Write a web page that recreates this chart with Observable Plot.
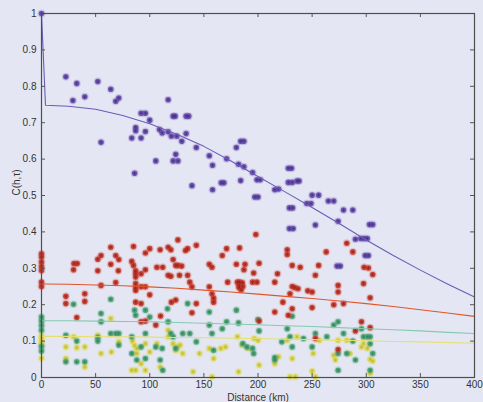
<!DOCTYPE html>
<html>
<head>
<meta charset="utf-8">
<script src="https://cdn.jsdelivr.net/npm/d3@7"></script>
<script src="https://cdn.jsdelivr.net/npm/@observablehq/plot@0.6"></script>
<style>
  html, body { margin: 0; padding: 0; background: #e3e6f2; }
  #chart { width: 483px; height: 402px; overflow: hidden; }
</style>
</head>
<body>
<div id="chart"></div>
<script>
// ---- data ----
const xTicks = [0, 50, 100, 150, 200, 250, 300, 350, 400];
const yTicks = [0, 0.1, 0.2, 0.3, 0.4, 0.5, 0.6, 0.7, 0.8, 0.9, 1];

const fitX = [0, 3.7, 25, 50, 75, 100, 125, 150, 175, 200, 225, 250, 275, 300, 325, 350, 375, 400];
const purpleFit = [1.0, 0.748, 0.745, 0.737, 0.72, 0.697, 0.668, 0.635, 0.595, 0.552, 0.51, 0.467, 0.423, 0.378, 0.335, 0.295, 0.257, 0.221];
const redFit = [0.257, 0.257, 0.256, 0.254, 0.252, 0.249, 0.245, 0.24, 0.235, 0.229, 0.223, 0.217, 0.21, 0.203, 0.195, 0.186, 0.177, 0.168];
const greenFit = [0.156, 0.156, 0.156, 0.155, 0.154, 0.153, 0.151, 0.149, 0.147, 0.145, 0.142, 0.14, 0.137, 0.134, 0.131, 0.128, 0.124, 0.121];
const yellowFit = [0.113, 0.113, 0.113, 0.112, 0.112, 0.111, 0.11, 0.109, 0.108, 0.107, 0.105, 0.104, 0.102, 0.101, 0.099, 0.098, 0.096, 0.094];

const purplePts = [[0,1.0],[22.5,0.826],[32.6,0.808],[29,0.761],[40,0.771],[52,0.813],[64,0.792],[55,0.646],[68.6,0.759],[71.4,0.768],[86,0.561],[83.4,0.658],[87,0.678],[87,0.687],[92,0.658],[92,0.726],[96,0.726],[96,0.676],[100,0.707],[105.6,0.595],[109,0.681],[111.5,0.672],[117,0.763],[117,0.675],[120,0.663],[121.6,0.718],[123.5,0.718],[124,0.613],[121.6,0.595],[126,0.595],[125,0.663],[129.6,0.649],[133.6,0.670],[133.6,0.718],[136,0.718],[139,0.527],[143,0.632],[155,0.609],[158,0.583],[158,0.516],[166,0.535],[168.5,0.535],[171,0.601],[180,0.632],[182,0.586],[184,0.649],[187,0.649],[184,0.541],[187,0.579],[195,0.563],[199,0.543],[202,0.543],[197,0.496],[200,0.496],[215.5,0.516],[219,0.518],[228,0.575],[231,0.575],[228,0.536],[231.6,0.536],[229,0.466],[232,0.466],[229,0.409],[232.5,0.409],[236,0.540],[238,0.540],[245,0.478],[249,0.478],[250,0.501],[253,0.419],[256,0.501],[265,0.485],[270,0.485],[274,0.429],[279,0.460],[287.6,0.460],[290,0.380],[295,0.382],[298,0.382],[301,0.382],[299,0.335],[302,0.335],[303,0.420],[306,0.420],[273,0.306],[276,0.306]];

const redPts = [[0,0.340],[0,0.331],[0,0.317],[0,0.305],[0,0.294],[0,0.262],[0,0.250],[22.5,0.223],[22.5,0.203],[29.6,0.296],[30,0.313],[33,0.313],[32.6,0.165],[40,0.230],[40,0.209],[52,0.325],[55,0.335],[52,0.293],[55,0.253],[64,0.358],[64,0.311],[68.6,0.335],[71.4,0.324],[68.6,0.261],[71,0.293],[85,0.360],[83.4,0.319],[85,0.308],[87,0.293],[87,0.285],[87,0.276],[87,0.258],[87,0.247],[87,0.239],[87,0.207],[92,0.203],[92,0.285],[96,0.296],[96,0.342],[100,0.354],[92,0.249],[96,0.249],[100,0.227],[92,0.153],[96,0.155],[105.6,0.144],[106.6,0.303],[112,0.303],[109.6,0.351],[110,0.169],[117,0.358],[119.5,0.351],[121.6,0.324],[117,0.281],[119.5,0.278],[124,0.308],[126,0.308],[129.5,0.306],[126,0.378],[124,0.213],[120,0.207],[127.5,0.281],[133,0.349],[135,0.354],[135,0.281],[137,0.262],[139,0.249],[143,0.363],[143,0.203],[139,0.178],[155,0.311],[157.5,0.303],[155,0.249],[157.5,0.230],[159,0.218],[159,0.207],[167,0.335],[171,0.354],[172,0.262],[180,0.311],[183,0.356],[181,0.262],[183,0.262],[185.5,0.260],[182.5,0.253],[186,0.250],[182.5,0.247],[184.5,0.241],[187,0.296],[188,0.311],[196,0.287],[195,0.262],[199,0.262],[198,0.393],[201,0.314],[201,0.155],[215.5,0.262],[218,0.285],[215.5,0.180],[223,0.207],[227,0.351],[227,0.338],[231.6,0.308],[231.6,0.250],[229.6,0.230],[231.6,0.189],[228,0.171],[234,0.247],[237,0.244],[239,0.303],[246,0.238],[250,0.235],[250,0.192],[253,0.281],[256,0.308],[253,0.107],[263,0.345],[270,0.200],[274,0.253],[274,0.235],[279,0.203],[282,0.369],[287.6,0.345],[274,0.077],[290,0.128],[295.6,0.153],[297.5,0.258],[298,0.303],[302,0.301],[303.6,0.219],[306,0.283],[303.6,0.137]];

const greenPts = [[0,0.166],[0,0.155],[0,0.143],[0,0.130],[0,0.085],[0,0.073],[22.5,0.116],[22.5,0.043],[29.6,0.201],[32.6,0.100],[32.6,0.043],[40,0.043],[52,0.100],[52,0.110],[55,0.176],[55,0.153],[64,0.215],[64,0.121],[68.6,0.121],[71.4,0.121],[71.4,0.089],[83.4,0.112],[83.4,0.066],[86,0.185],[87,0.171],[88,0.048],[92,0.084],[96,0.185],[96,0.121],[96,0.052],[100,0.166],[105.6,0.084],[109.6,0.048],[111.5,0.080],[112,0.020],[116.4,0.189],[117,0.153],[119.5,0.121],[121.6,0.112],[124,0.080],[130.5,0.121],[135,0.203],[137,0.121],[143,0.098],[155,0.180],[155,0.144],[157.5,0.121],[159,0.075],[167,0.134],[171,0.153],[180,0.185],[182,0.150],[186,0.093],[189.7,0.084],[195,0.080],[196,0.066],[200,0.159],[201,0.128],[215.5,0.055],[215.5,0.048],[222,0.098],[227,0.134],[229.6,0.112],[231.6,0.084],[231.6,0.168],[242,0.107],[250,0.084],[253,0.121],[263.6,0.112],[274,0.153],[274,0.066],[274,0.020],[270,0.144],[279,0.121],[282,0.066],[287.6,0.100],[290,0.048],[295.6,0.134],[297.5,0.112],[301,0.112],[303.6,0.112],[303.6,0.093],[303.6,0.020],[306,0.066]];

const yellowPts = [[0,0.115],[0,0.108],[0,0.100],[0,0.095],[0,0.090],[0,0.053],[22.5,0.084],[22.5,0.052],[29.6,0.112],[32.6,0.082],[40,0.084],[40,0.029],[52,0.116],[55,0.066],[64,0.162],[64.6,0.070],[71.4,0.098],[83.4,0.020],[87,0.020],[84,0.100],[86,0.088],[88,0.080],[88,0.066],[92,0.038],[96,0.020],[96,0.093],[100,0.070],[106.6,0.093],[109.6,0.029],[117,0.130],[117,0.112],[121.6,0.093],[124,0.075],[126,0.084],[128,0.089],[130.5,0.066],[140,0.016],[146,0.066],[155,0.080],[157.5,0.002],[159,0.052],[165.6,0.080],[170,0.084],[181,0.112],[182,0.016],[185,0.089],[191,0.080],[196.5,0.107],[200,0.102],[201,0.034],[215.5,0.038],[219,0.057],[227,0.102],[229.6,0.002],[234.6,0.002],[231.6,0.052],[236,0.112],[250,0.018],[253,0.002],[251,0.066],[256.8,0.102],[270,0.061],[271.5,0.048],[274,0.102],[282,0.102],[285,0.066],[295.6,0.084],[297.5,0.093],[301,0.080],[303.6,0.011],[303.6,0.050],[306,0.045]];

const xLabel = "Distance (km)";
const yLabel = "C(h,\u03c4)";

// ---- styling ----
const series = [
  {pts: yellowPts, fill: "#ddd958", star: "#b8b032"},
  {pts: greenPts, fill: "#4fa679", star: "#2a7a50"},
  {pts: redPts, fill: "#cc3b2e", star: "#8a1e16"},
  {pts: purplePts, fill: "#6a4fb0", star: "#3d2a78"}
];
const fits = [
  {y: yellowFit, stroke: "#e6df6e"},
  {y: greenFit, stroke: "#86c9b0"},
  {y: redFit, stroke: "#e2542a"},
  {y: purpleFit, stroke: "#6a5cb8"}
];

const marks = [];
for (const s of series) {
  marks.push(Plot.dot(s.pts, {x: d => d[0], y: d => d[1], r: 4, fill: s.fill, fillOpacity: 0.22, stroke: "none"}));
  marks.push(Plot.dot(s.pts, {x: d => d[0], y: d => d[1], r: 2.8, fill: s.fill, fillOpacity: 0.9, stroke: "none"}));
  marks.push(Plot.dot(s.pts, {x: d => d[0], y: d => d[1], r: 1.8, symbol: "asterisk", stroke: s.star, strokeWidth: 0.7, strokeOpacity: 0.8}));
}
for (const f of fits) {
  marks.push(Plot.line(fitX.map((x, i) => [x, f.y[i]]), {x: d => d[0], y: d => d[1], stroke: f.stroke, strokeWidth: 1.1}));
}
// inward ticks on all four sides
marks.push(Plot.ruleX(xTicks, {x: d => d, y1: 0, y2: 0.011, stroke: "#555", strokeWidth: 1}));
marks.push(Plot.ruleX(xTicks, {x: d => d, y1: 0.989, y2: 1, stroke: "#555", strokeWidth: 1}));
marks.push(Plot.ruleY(yTicks, {y: d => d, x1: 0, x2: 3.7, stroke: "#555", strokeWidth: 1}));
marks.push(Plot.ruleY(yTicks, {y: d => d, x1: 396.3, x2: 400, stroke: "#555", strokeWidth: 1}));
marks.push(Plot.frame({stroke: "#4e4e4e", strokeWidth: 1.2}));
marks.push(Plot.axisX({ticks: xTicks, tickSize: 0, tickPadding: 3, tickFormat: d => String(d), label: null, fill: "#333"}));
marks.push(Plot.axisY({ticks: yTicks, tickSize: 0, tickPadding: 5, tickFormat: d => String(d), label: null, fill: "#333"}));
marks.push(Plot.text([xLabel], {frameAnchor: "bottom", dy: 16, lineAnchor: "top", text: d => d, fill: "#333", fontSize: 10}));
marks.push(Plot.text([yLabel], {frameAnchor: "left", dx: -25, rotate: -90, text: d => d, fill: "#333", fontSize: 10}));

const chart = Plot.plot({
  width: 483,
  height: 402,
  marginLeft: 41,
  marginRight: 9,
  marginTop: 13,
  marginBottom: 25,
  x: {domain: [0, 400]},
  y: {domain: [0, 1]},
  style: {background: "#e4e7f3", fontFamily: "'Liberation Sans', Arial, sans-serif", fontSize: "10px", color: "#333"},
  marks
});
document.getElementById("chart").appendChild(chart);
</script>
</body>
</html>
